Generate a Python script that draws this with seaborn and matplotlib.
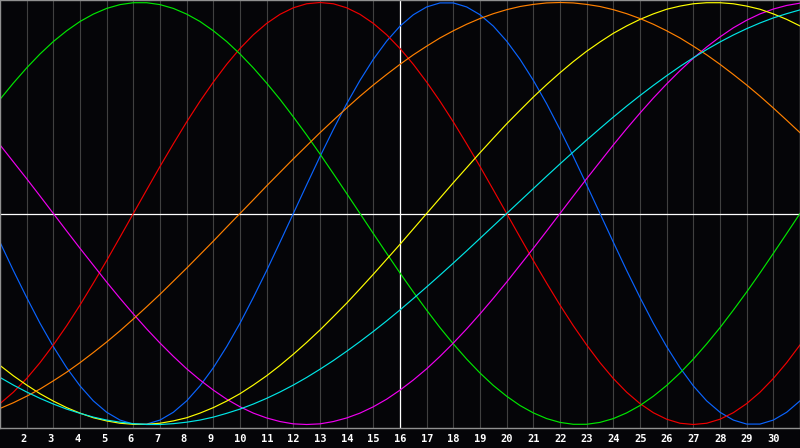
import pandas as pd
import matplotlib
matplotlib.use("Agg")
import matplotlib.pyplot as plt
import matplotlib.transforms as mtransforms
import seaborn as sns

# days shown on the chart, sampled every half day
days = [h / 2 for h in range(2, 63)]
label_days = list(range(2, 31))
today = 16

# cycle values, half-day steps from day 1 to day 31
physical = [-0.136, -0.270, -0.398, -0.520, -0.631, -0.731, -0.817, -0.888, -0.942, -0.979,
            -0.998, -0.998, -0.979, -0.942, -0.888, -0.817, -0.731, -0.631, -0.520, -0.398,
            -0.270, -0.136, 0.000, 0.136, 0.270, 0.398, 0.520, 0.631, 0.731, 0.817,
            0.888, 0.942, 0.979, 0.998, 0.998, 0.979, 0.942, 0.888, 0.817, 0.731,
            0.631, 0.520, 0.398, 0.270, 0.136, 0.000, -0.136, -0.270, -0.398, -0.520,
            -0.631, -0.731, -0.817, -0.888, -0.942, -0.979, -0.998, -0.998, -0.979, -0.942,
            -0.888]
emotional = [-0.901, -0.847, -0.782, -0.707, -0.623, -0.532, -0.434, -0.330, -0.223, -0.112,
             0.000, 0.112, 0.223, 0.330, 0.434, 0.532, 0.623, 0.707, 0.782, 0.847,
             0.901, 0.944, 0.975, 0.994, 1.000, 0.994, 0.975, 0.944, 0.901, 0.847,
             0.782, 0.707, 0.623, 0.532, 0.434, 0.330, 0.223, 0.112, 0.000, -0.112,
             -0.223, -0.330, -0.434, -0.532, -0.623, -0.707, -0.782, -0.847, -0.901, -0.944,
             -0.975, -0.994, -1.000, -0.994, -0.975, -0.944, -0.901, -0.847, -0.782, -0.707,
             -0.623]
intellectual = [0.541, 0.618, 0.690, 0.756, 0.815, 0.866, 0.910, 0.945, 0.972, 0.990,
                0.999, 0.999, 0.990, 0.972, 0.945, 0.910, 0.866, 0.815, 0.756, 0.690,
                0.618, 0.541, 0.458, 0.372, 0.282, 0.189, 0.095, 0.000, -0.095, -0.189,
                -0.282, -0.372, -0.458, -0.541, -0.618, -0.690, -0.756, -0.815, -0.866, -0.910,
                -0.945, -0.972, -0.990, -0.999, -0.999, -0.990, -0.972, -0.945, -0.910, -0.866,
                -0.815, -0.756, -0.690, -0.618, -0.541, -0.458, -0.372, -0.282, -0.189, -0.095,
                0.000]
intuitive = [0.325, 0.245, 0.165, 0.083, 0.000, -0.083, -0.165, -0.245, -0.325, -0.402,
             -0.476, -0.547, -0.614, -0.677, -0.736, -0.789, -0.837, -0.880, -0.916, -0.946,
             -0.969, -0.986, -0.997, -1.000, -0.997, -0.986, -0.969, -0.946, -0.916, -0.880,
             -0.837, -0.789, -0.736, -0.677, -0.614, -0.547, -0.476, -0.402, -0.325, -0.245,
             -0.165, -0.083, 0.000, 0.083, 0.165, 0.245, 0.325, 0.402, 0.476, 0.547,
             0.614, 0.677, 0.736, 0.789, 0.837, 0.880, 0.916, 0.946, 0.969, 0.986,
             0.997]
aesthetic = [-0.720, -0.769, -0.813, -0.854, -0.889, -0.920, -0.946, -0.968, -0.983, -0.994,
             -0.999, -0.999, -0.994, -0.983, -0.968, -0.946, -0.920, -0.889, -0.854, -0.813,
             -0.769, -0.720, -0.667, -0.611, -0.552, -0.489, -0.425, -0.357, -0.288, -0.217,
             -0.146, -0.073, 0.000, 0.073, 0.146, 0.217, 0.288, 0.357, 0.425, 0.489,
             0.552, 0.611, 0.667, 0.720, 0.769, 0.813, 0.854, 0.889, 0.920, 0.946,
             0.968, 0.983, 0.994, 0.999, 0.999, 0.994, 0.983, 0.968, 0.946, 0.920,
             0.889]
awareness = [-0.924, -0.897, -0.866, -0.832, -0.793, -0.752, -0.707, -0.659, -0.609, -0.556,
             -0.500, -0.442, -0.383, -0.321, -0.259, -0.195, -0.131, -0.065, 0.000, 0.065,
             0.131, 0.195, 0.259, 0.321, 0.383, 0.442, 0.500, 0.556, 0.609, 0.659,
             0.707, 0.752, 0.793, 0.832, 0.866, 0.897, 0.924, 0.947, 0.966, 0.981,
             0.991, 0.998, 1.000, 0.998, 0.991, 0.981, 0.966, 0.947, 0.924, 0.897,
             0.866, 0.832, 0.793, 0.752, 0.707, 0.659, 0.609, 0.556, 0.500, 0.442,
             0.383]
spiritual = [-0.777, -0.813, -0.846, -0.876, -0.903, -0.927, -0.947, -0.965, -0.979, -0.989,
             -0.996, -1.000, -1.000, -0.996, -0.989, -0.979, -0.965, -0.947, -0.927, -0.903,
             -0.876, -0.846, -0.813, -0.777, -0.738, -0.697, -0.653, -0.607, -0.559, -0.509,
             -0.457, -0.403, -0.348, -0.292, -0.235, -0.177, -0.118, -0.059, 0.000, 0.059,
             0.118, 0.177, 0.235, 0.292, 0.348, 0.403, 0.457, 0.509, 0.559, 0.607,
             0.653, 0.697, 0.738, 0.777, 0.813, 0.846, 0.876, 0.903, 0.927, 0.947,
             0.965]

series = {
    "Physical": physical,
    "Emotional": emotional,
    "Intellectual": intellectual,
    "Intuitive": intuitive,
    "Aesthetic": aesthetic,
    "Awareness": awareness,
    "Spiritual": spiritual,
}
palette = {
    "Physical": "#0a64ff",
    "Emotional": "#f00000",
    "Intellectual": "#00e600",
    "Intuitive": "#f000f0",
    "Aesthetic": "#ffff00",
    "Awareness": "#ff8000",
    "Spiritual": "#00e6e6",
}

rows = []
for name, vals in series.items():
    for d, v in zip(days, vals):
        rows.append({"day": d, "value": v, "cycle": name})
df = pd.DataFrame(rows)

bg = "#050508"
fig = plt.figure(figsize=(8, 4.48), dpi=100, facecolor=bg)
ax = fig.add_axes([0, 20 / 448, 1, 428 / 448])
ax.set_facecolor(bg)

# vertical day grid
for d in label_days:
    ax.axvline(d, color="#404040", lw=0.8, zorder=0)
ax.axvline(today, color="white", lw=0.9, zorder=1)
ax.axhline(0, color="white", lw=0.9, zorder=1)

sns.lineplot(data=df, x="day", y="value", hue="cycle", palette=palette,
             linewidth=0.85, legend=False, ax=ax, zorder=2)

ax.set_xlim(1, 31)
ax.set_ylim(-(428 - 213.5) / 211, 213.5 / 211)
ax.set_xticks([])
ax.set_yticks([])
ax.set_xlabel("")
ax.set_ylabel("")
for s in ax.spines.values():
    s.set_color("#909090")
    s.set_linewidth(1.0)

trans = mtransforms.blended_transform_factory(ax.transData, fig.transFigure)
for d in label_days:
    ax.text(d - 0.22, 9.5 / 448, str(d), transform=trans, color="white",
            fontsize=7.5, fontweight="bold", family="DejaVu Sans Mono",
            ha="left", va="center")

fig.savefig("out.png", dpi=100, facecolor=bg)
